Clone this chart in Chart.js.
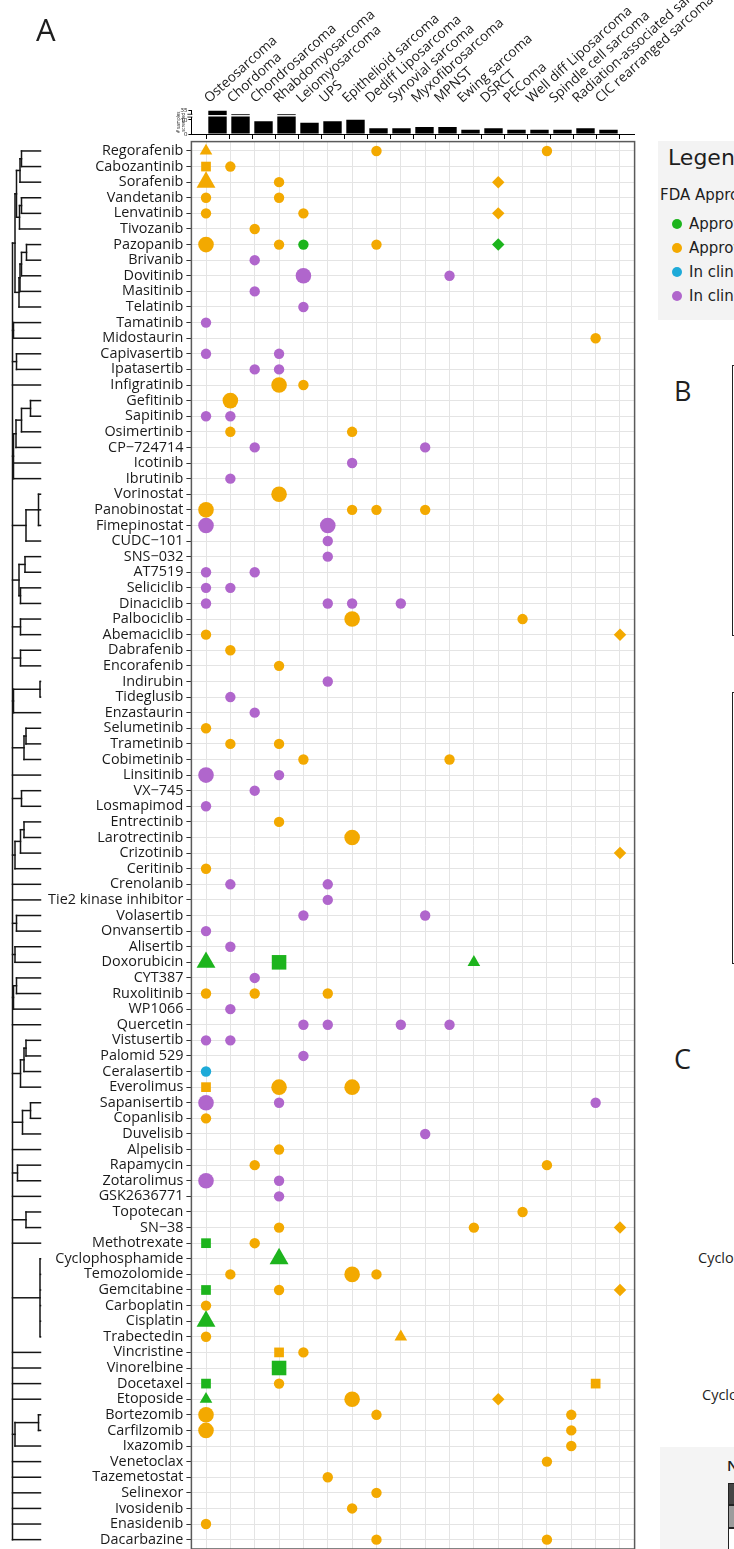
<!DOCTYPE html>
<html>
<head>
<meta charset="utf-8">
<script src="https://cdn.jsdelivr.net/npm/chart.js@4.4.1/dist/chart.umd.min.js"></script>
<style>
  html, body { margin: 0; padding: 0; background: #fff; width: 734px; height: 1549px; overflow: hidden; }
  body { position: relative; font-family: "Open Sans", sans-serif; color: #1e1e1e; }
  canvas { position: absolute; }
  .abs { position: absolute; white-space: nowrap; }
  #legendBox, #legendBox .abs { font-family: "DejaVu Sans", sans-serif; }
</style>
</head>
<body>
<canvas id="bars" width="734" height="141" style="left:0;top:0"></canvas>
<canvas id="tree" width="48" height="1549" style="left:0;top:0"></canvas>
<canvas id="hits" width="640" height="1549" style="left:0;top:0"></canvas>

<div class="abs" style="left:36px;top:8px;font-size:31px;">A</div>

<!-- side panels -->
<div class="abs" id="legendBox" style="left:658px;top:141px;width:76px;height:179px;background:#f3f3f3;overflow:hidden;">
  <div class="abs" style="left:10px;top:4px;font-size:22px;">Legend</div>
  <div class="abs" style="left:2px;top:45px;font-size:15px;">FDA Approval Status</div>
</div>
<div class="abs" style="left:674px;top:372px;font-size:27px;">B</div>
<div class="abs" style="left:732px;top:365px;width:2px;height:269px;border:1.5px solid #222;border-right:none;"></div>
<div class="abs" style="left:732px;top:692px;width:2px;height:270px;border:1.5px solid #222;border-right:none;"></div>
<div class="abs" style="left:674px;top:1040px;font-size:27px;">C</div>
<div class="abs" style="left:698px;top:1248px;width:36px;overflow:hidden;font-size:14.5px;">Cyclophosphamide</div>
<div class="abs" style="left:702px;top:1385px;width:32px;overflow:hidden;font-size:14.5px;">Cyclophosphamide</div>
<div class="abs" style="left:660px;top:1447px;width:74px;height:102px;background:#f4f4f4;overflow:hidden;">
  <div class="abs" style="left:67px;top:8px;font-size:15px;font-weight:600;">N</div>
  <div class="abs" style="left:68px;top:36px;width:40px;height:20px;background:#454545;border:1px solid #222;"></div>
  <div class="abs" style="left:68px;top:58px;width:40px;height:21px;background:#9c9c9c;border:1px solid #222;"></div>
  <div class="abs" style="left:68px;top:81px;width:40px;height:30px;background:#fff;border:1px solid #222;"></div>
</div>

<script>
// Sarcoma subtypes (columns)
const sarcomas = [
  'Osteosarcoma', 'Chordoma', 'Chondrosarcoma', 'Rhabdomyosarcoma', 'Leiomyosarcoma', 'UPS',
  'Epithelioid sarcoma', 'Dediff Liposarcoma', 'Synovial sarcoma', 'Myxofibrosarcoma', 'MPNST',
  'Ewing sarcoma', 'DSRCT', 'PEComa', 'Well diff Liposarcoma', 'Spindle cell sarcoma',
  'Radiation-associated sarcoma', 'CIC rearranged sarcoma'
];

// Number of samples screened per subtype
const samplesScreened = [35, 20, 9, 20, 8, 9, 10, 4, 4, 5, 5, 3, 4, 3, 3, 3, 4, 3];
const samplesTicks = [0, 10, 35];

// Drugs (rows, in dendrogram order)
const drugs = [
  'Regorafenib', 'Cabozantinib', 'Sorafenib', 'Vandetanib', 'Lenvatinib', 'Tivozanib', 'Pazopanib',
  'Brivanib', 'Dovitinib', 'Masitinib', 'Telatinib', 'Tamatinib', 'Midostaurin', 'Capivasertib',
  'Ipatasertib', 'Infigratinib', 'Gefitinib', 'Sapitinib', 'Osimertinib', 'CP\u2212724714', 'Icotinib',
  'Ibrutinib', 'Vorinostat', 'Panobinostat', 'Fimepinostat', 'CUDC\u2212101', 'SNS\u2212032', 'AT7519',
  'Seliciclib', 'Dinaciclib', 'Palbociclib', 'Abemaciclib', 'Dabrafenib', 'Encorafenib', 'Indirubin',
  'Tideglusib', 'Enzastaurin', 'Selumetinib', 'Trametinib', 'Cobimetinib', 'Linsitinib', 'VX\u2212745',
  'Losmapimod', 'Entrectinib', 'Larotrectinib', 'Crizotinib', 'Ceritinib', 'Crenolanib',
  'Tie2 kinase inhibitor', 'Volasertib', 'Onvansertib', 'Alisertib', 'Doxorubicin', 'CYT387',
  'Ruxolitinib', 'WP1066', 'Quercetin', 'Vistusertib', 'Palomid 529', 'Ceralasertib', 'Everolimus',
  'Sapanisertib', 'Copanlisib', 'Duvelisib', 'Alpelisib', 'Rapamycin', 'Zotarolimus', 'GSK2636771',
  'Topotecan', 'SN\u221238', 'Methotrexate', 'Cyclophosphamide', 'Temozolomide', 'Gemcitabine',
  'Carboplatin', 'Cisplatin', 'Trabectedin', 'Vincristine', 'Vinorelbine', 'Docetaxel', 'Etoposide',
  'Bortezomib', 'Carfilzomib', 'Ixazomib', 'Venetoclax', 'Tazemetostat', 'Selinexor', 'Ivosidenib',
  'Enasidenib', 'Dacarbazine'
];

// Hits: [drug, sarcoma, marker class (1-4), response level (1-2)]
const approvedForSarcoma = [
  ['Pazopanib', 'Leiomyosarcoma', 1, 1], ['Pazopanib', 'DSRCT', 4, 1],
  ['Doxorubicin', 'Osteosarcoma', 3, 2], ['Doxorubicin', 'Rhabdomyosarcoma', 2, 2], ['Doxorubicin', 'Ewing sarcoma', 3, 1],
  ['Methotrexate', 'Osteosarcoma', 2, 1], ['Cyclophosphamide', 'Rhabdomyosarcoma', 3, 2],
  ['Gemcitabine', 'Osteosarcoma', 2, 1], ['Cisplatin', 'Osteosarcoma', 3, 2],
  ['Vinorelbine', 'Rhabdomyosarcoma', 2, 2], ['Docetaxel', 'Osteosarcoma', 2, 1],
  ['Etoposide', 'Osteosarcoma', 3, 1]
];

const approvedOther = [
  ['Regorafenib', 'Osteosarcoma', 3, 1], ['Regorafenib', 'Dediff Liposarcoma', 1, 1], ['Regorafenib', 'Well diff Liposarcoma', 1, 1],
  ['Cabozantinib', 'Osteosarcoma', 2, 1], ['Cabozantinib', 'Chordoma', 1, 1],
  ['Sorafenib', 'Osteosarcoma', 3, 2], ['Sorafenib', 'Rhabdomyosarcoma', 1, 1], ['Sorafenib', 'DSRCT', 4, 1],
  ['Vandetanib', 'Osteosarcoma', 1, 1], ['Vandetanib', 'Rhabdomyosarcoma', 1, 1],
  ['Lenvatinib', 'Osteosarcoma', 1, 1], ['Lenvatinib', 'Leiomyosarcoma', 1, 1], ['Lenvatinib', 'DSRCT', 4, 1],
  ['Tivozanib', 'Chondrosarcoma', 1, 1],
  ['Pazopanib', 'Osteosarcoma', 1, 2], ['Pazopanib', 'Rhabdomyosarcoma', 1, 1], ['Pazopanib', 'Dediff Liposarcoma', 1, 1],
  ['Midostaurin', 'Radiation-associated sarcoma', 1, 1],
  ['Infigratinib', 'Rhabdomyosarcoma', 1, 2], ['Infigratinib', 'Leiomyosarcoma', 1, 1],
  ['Gefitinib', 'Chordoma', 1, 2],
  ['Osimertinib', 'Chordoma', 1, 1], ['Osimertinib', 'Epithelioid sarcoma', 1, 1],
  ['Vorinostat', 'Rhabdomyosarcoma', 1, 2],
  ['Panobinostat', 'Osteosarcoma', 1, 2], ['Panobinostat', 'Epithelioid sarcoma', 1, 1],
  ['Panobinostat', 'Dediff Liposarcoma', 1, 1], ['Panobinostat', 'Myxofibrosarcoma', 1, 1],
  ['Palbociclib', 'Epithelioid sarcoma', 1, 2], ['Palbociclib', 'PEComa', 1, 1],
  ['Abemaciclib', 'Osteosarcoma', 1, 1], ['Abemaciclib', 'CIC rearranged sarcoma', 4, 1],
  ['Dabrafenib', 'Chordoma', 1, 1], ['Encorafenib', 'Rhabdomyosarcoma', 1, 1],
  ['Selumetinib', 'Osteosarcoma', 1, 1],
  ['Trametinib', 'Chordoma', 1, 1], ['Trametinib', 'Rhabdomyosarcoma', 1, 1],
  ['Cobimetinib', 'Leiomyosarcoma', 1, 1], ['Cobimetinib', 'MPNST', 1, 1],
  ['Entrectinib', 'Rhabdomyosarcoma', 1, 1], ['Larotrectinib', 'Epithelioid sarcoma', 1, 2],
  ['Crizotinib', 'CIC rearranged sarcoma', 4, 1], ['Ceritinib', 'Osteosarcoma', 1, 1],
  ['Ruxolitinib', 'Osteosarcoma', 1, 1], ['Ruxolitinib', 'Chondrosarcoma', 1, 1], ['Ruxolitinib', 'UPS', 1, 1],
  ['Everolimus', 'Osteosarcoma', 2, 1], ['Everolimus', 'Rhabdomyosarcoma', 1, 2], ['Everolimus', 'Epithelioid sarcoma', 1, 2],
  ['Copanlisib', 'Osteosarcoma', 1, 1], ['Alpelisib', 'Rhabdomyosarcoma', 1, 1],
  ['Rapamycin', 'Chondrosarcoma', 1, 1], ['Rapamycin', 'Well diff Liposarcoma', 1, 1],
  ['Topotecan', 'PEComa', 1, 1],
  ['SN\u221238', 'Rhabdomyosarcoma', 1, 1], ['SN\u221238', 'Ewing sarcoma', 1, 1], ['SN\u221238', 'CIC rearranged sarcoma', 4, 1],
  ['Methotrexate', 'Chondrosarcoma', 1, 1],
  ['Temozolomide', 'Chordoma', 1, 1], ['Temozolomide', 'Epithelioid sarcoma', 1, 2], ['Temozolomide', 'Dediff Liposarcoma', 1, 1],
  ['Gemcitabine', 'Rhabdomyosarcoma', 1, 1], ['Gemcitabine', 'CIC rearranged sarcoma', 4, 1],
  ['Carboplatin', 'Osteosarcoma', 1, 1],
  ['Trabectedin', 'Osteosarcoma', 1, 1], ['Trabectedin', 'Synovial sarcoma', 3, 1],
  ['Vincristine', 'Rhabdomyosarcoma', 2, 1], ['Vincristine', 'Leiomyosarcoma', 1, 1],
  ['Docetaxel', 'Rhabdomyosarcoma', 1, 1], ['Docetaxel', 'Radiation-associated sarcoma', 2, 1],
  ['Etoposide', 'Epithelioid sarcoma', 1, 2], ['Etoposide', 'DSRCT', 4, 1],
  ['Bortezomib', 'Osteosarcoma', 1, 2], ['Bortezomib', 'Dediff Liposarcoma', 1, 1], ['Bortezomib', 'Spindle cell sarcoma', 1, 1],
  ['Carfilzomib', 'Osteosarcoma', 1, 2], ['Carfilzomib', 'Spindle cell sarcoma', 1, 1],
  ['Ixazomib', 'Spindle cell sarcoma', 1, 1], ['Venetoclax', 'Well diff Liposarcoma', 1, 1],
  ['Tazemetostat', 'UPS', 1, 1], ['Selinexor', 'Dediff Liposarcoma', 1, 1],
  ['Ivosidenib', 'Epithelioid sarcoma', 1, 1], ['Enasidenib', 'Osteosarcoma', 1, 1],
  ['Dacarbazine', 'Dediff Liposarcoma', 1, 1], ['Dacarbazine', 'Well diff Liposarcoma', 1, 1]
];

const trialsForSarcoma = [
  ['Ceralasertib', 'Osteosarcoma', 1, 1]
];

const trialsOther = [
  ['Brivanib', 'Chondrosarcoma', 1, 1],
  ['Dovitinib', 'Leiomyosarcoma', 1, 2], ['Dovitinib', 'MPNST', 1, 1],
  ['Masitinib', 'Chondrosarcoma', 1, 1], ['Telatinib', 'Leiomyosarcoma', 1, 1],
  ['Tamatinib', 'Osteosarcoma', 1, 1],
  ['Capivasertib', 'Osteosarcoma', 1, 1], ['Capivasertib', 'Rhabdomyosarcoma', 1, 1],
  ['Ipatasertib', 'Chondrosarcoma', 1, 1], ['Ipatasertib', 'Rhabdomyosarcoma', 1, 1],
  ['Sapitinib', 'Osteosarcoma', 1, 1], ['Sapitinib', 'Chordoma', 1, 1],
  ['CP\u2212724714', 'Chondrosarcoma', 1, 1], ['CP\u2212724714', 'Myxofibrosarcoma', 1, 1],
  ['Icotinib', 'Epithelioid sarcoma', 1, 1], ['Ibrutinib', 'Chordoma', 1, 1],
  ['Fimepinostat', 'Osteosarcoma', 1, 2], ['Fimepinostat', 'UPS', 1, 2],
  ['CUDC\u2212101', 'UPS', 1, 1], ['SNS\u2212032', 'UPS', 1, 1],
  ['AT7519', 'Osteosarcoma', 1, 1], ['AT7519', 'Chondrosarcoma', 1, 1],
  ['Seliciclib', 'Osteosarcoma', 1, 1], ['Seliciclib', 'Chordoma', 1, 1],
  ['Dinaciclib', 'Osteosarcoma', 1, 1], ['Dinaciclib', 'UPS', 1, 1],
  ['Dinaciclib', 'Epithelioid sarcoma', 1, 1], ['Dinaciclib', 'Synovial sarcoma', 1, 1],
  ['Indirubin', 'UPS', 1, 1], ['Tideglusib', 'Chordoma', 1, 1], ['Enzastaurin', 'Chondrosarcoma', 1, 1],
  ['Linsitinib', 'Osteosarcoma', 1, 2], ['Linsitinib', 'Rhabdomyosarcoma', 1, 1],
  ['VX\u2212745', 'Chondrosarcoma', 1, 1], ['Losmapimod', 'Osteosarcoma', 1, 1],
  ['Crenolanib', 'Chordoma', 1, 1], ['Crenolanib', 'UPS', 1, 1],
  ['Tie2 kinase inhibitor', 'UPS', 1, 1],
  ['Volasertib', 'Leiomyosarcoma', 1, 1], ['Volasertib', 'Myxofibrosarcoma', 1, 1],
  ['Onvansertib', 'Osteosarcoma', 1, 1], ['Alisertib', 'Chordoma', 1, 1],
  ['CYT387', 'Chondrosarcoma', 1, 1], ['WP1066', 'Chordoma', 1, 1],
  ['Quercetin', 'Leiomyosarcoma', 1, 1], ['Quercetin', 'UPS', 1, 1],
  ['Quercetin', 'Synovial sarcoma', 1, 1], ['Quercetin', 'MPNST', 1, 1],
  ['Vistusertib', 'Osteosarcoma', 1, 1], ['Vistusertib', 'Chordoma', 1, 1],
  ['Palomid 529', 'Leiomyosarcoma', 1, 1],
  ['Sapanisertib', 'Osteosarcoma', 1, 2], ['Sapanisertib', 'Rhabdomyosarcoma', 1, 1],
  ['Sapanisertib', 'Radiation-associated sarcoma', 1, 1],
  ['Duvelisib', 'Myxofibrosarcoma', 1, 1],
  ['Zotarolimus', 'Osteosarcoma', 1, 2], ['Zotarolimus', 'Rhabdomyosarcoma', 1, 1],
  ['GSK2636771', 'Rhabdomyosarcoma', 1, 1]
];

const statusGroups = [
  { label: 'Approved for sarcoma', color: '#1db41d', hits: approvedForSarcoma },
  { label: 'Approved for other indications', color: '#f3a900', hits: approvedOther },
  { label: 'In clinical trials for sarcoma', color: '#1eaad8', hits: trialsForSarcoma },
  { label: 'In clinical trials for other indications', color: '#b066cc', hits: trialsOther }
];

// Drug clustering: [height, ...children]; leaves are drug names
const dendrogram = [28,
  [25.5,
    [24, [20.5, [19, 'Regorafenib', 'Cabozantinib'], 'Sorafenib'], [21, [19, 'Vandetanib', 'Lenvatinib'], 'Tivozanib']],
    [21.5, [20.5, [19, [14, 'Pazopanib', 'Brivanib'], 'Dovitinib'], 'Masitinib'], 'Telatinib']],
  [27, 'Tamatinib', 'Midostaurin'],
  [24, 'Capivasertib', 'Ipatasertib'],
  'Infigratinib',
  [27, [24.5, [19, [10, 'Gefitinib', 'Sapitinib'], 'Osimertinib'], 'CP\u2212724714'], 'Icotinib', 'Ibrutinib'],
  [14.5, [2, 'Vorinostat', 'Panobinostat', 'Fimepinostat'], 'CUDC\u2212101'],
  [21.5, [15.5, 'SNS\u2212032', 'AT7519'], [20, 'Seliciclib', 'Dinaciclib']],
  [20, 'Palbociclib', 'Abemaciclib'],
  [20, 'Dabrafenib', 'Encorafenib'],
  [27, [0.5, 'Indirubin', 'Tideglusib'], 'Enzastaurin'],
  [16.5, [14.5, 'Selumetinib', 'Trametinib'], 'Cobimetinib'],
  'Linsitinib',
  [19, 'VX\u2212745', 'Losmapimod'],
  [25.5, [20, [16.5, 'Entrectinib', 'Larotrectinib'], 'Crizotinib'], 'Ceritinib'],
  'Crenolanib', 'Tie2 kinase inhibitor',
  [24, 'Volasertib', 'Onvansertib'],
  [25.5, 'Alisertib', 'Doxorubicin'],
  [27, [24, 'CYT387', 'Ruxolitinib'], 'WP1066'],
  'Quercetin',
  [20, [16.5, [14.5, 'Vistusertib', 'Palomid 529'], 'Ceralasertib'], 'Everolimus'],
  [18, [10, 'Sapanisertib', 'Copanlisib'], 'Duvelisib'],
  'Alpelisib',
  [23, 'Rapamycin', 'Zotarolimus'],
  'GSK2636771',
  [14.5, 'Topotecan', 'SN\u221238'],
  'Methotrexate',
  [0.5, 'Cyclophosphamide', 'Temozolomide', 'Gemcitabine', 'Carboplatin', 'Cisplatin', 'Trabectedin'],
  'Vincristine', 'Vinorelbine', 'Docetaxel', 'Etoposide',
  [25.5, [2, 'Bortezomib', 'Carfilzomib'], 'Ixazomib'],
  'Venetoclax', 'Tazemetostat', 'Selinexor', 'Ivosidenib', 'Enasidenib', 'Dacarbazine'
];

// ---------- shared geometry ----------
const FONT = '"Open Sans", sans-serif';
const colPad = 0.6;                     // discrete-axis expansion
const xMin = -colPad, xMax = sarcomas.length - 1 + colPad;
const yMin = -colPad, yMax = drugs.length - 1 + colPad;
const plotLeft = 191.4, plotRight = 634.6, plotTop = 141.6;

const markerShape = { 1: 'circle', 2: 'rect', 3: 'triangle', 4: 'rectRot' };
const shapeScale = { 1: 1, 2: 1.32, 3: 1.4, 4: 1.2 };
const levelRadius = { 1: 5.2, 2: 7.8 };
const markerRadius = p => levelRadius[p.level] * shapeScale[p.cls];

const intTicks = n => Array.from({ length: n }, (_, i) => ({ value: i }));
const noPad = s => { s.paddingTop = 0; s.paddingBottom = 0; s.paddingLeft = 0; s.paddingRight = 0; };

// legend entries built from the status groups
const legendBox = document.getElementById('legendBox');
statusGroups.forEach((g, i) => {
  const row = document.createElement('div');
  row.className = 'abs';
  row.style.cssText = `left:14px;top:${74 + i * 24}px;font-size:15px;`;
  row.innerHTML = `<span style="display:inline-block;width:10px;height:10px;border-radius:50%;background:${g.color};margin-right:7px;vertical-align:0px"></span>${g.label}`;
  legendBox.appendChild(row);
});

// ---------- panel frame ----------
const panelFrame = {
  id: 'panelFrame',
  beforeDatasetsDraw(chart) {
    const { ctx, chartArea: a } = chart;
    ctx.save();
    ctx.strokeStyle = '#5a5a5a';
    ctx.lineWidth = 1.5;
    ctx.strokeRect(a.left, a.top, a.right - a.left, a.bottom - a.top);
    ctx.restore();
  }
};

// ---------- drug x sarcoma hits ----------
new Chart(document.getElementById('hits'), {
  type: 'scatter',
  data: {
    datasets: statusGroups.map(g => ({
      label: g.label,
      data: g.hits.map(([drug, sarcoma, cls, level]) => ({
        x: sarcomas.indexOf(sarcoma), y: drugs.indexOf(drug), cls, level
      })),
      backgroundColor: g.color,
      borderWidth: 0,
      pointStyle: c => markerShape[c.raw.cls],
      pointRadius: c => markerRadius(c.raw),
      pointHoverRadius: c => markerRadius(c.raw),
      clip: false
    }))
  },
  options: {
    responsive: false, animation: false, events: [],
    layout: { autoPadding: false, padding: { left: 0, top: plotTop, right: 640 - plotRight, bottom: 0 } },
    plugins: { legend: { display: false }, tooltip: { enabled: false } },
    scales: {
      x: {
        type: 'linear', min: xMin, max: xMax,
        afterBuildTicks: s => { s.ticks = intTicks(sarcomas.length); },
        afterFit: s => { s.height = 0; noPad(s); },
        ticks: { display: false },
        grid: { color: '#e4e4e4', lineWidth: 1, drawTicks: false },
        border: { display: false }
      },
      y: {
        type: 'linear', reverse: true, min: yMin, max: yMax,
        afterBuildTicks: s => { s.ticks = intTicks(drugs.length); },
        afterFit: s => { s.width = plotLeft; noPad(s); },
        ticks: {
          autoSkip: false, padding: 3, color: '#1a1a1a',
          font: { family: FONT, size: 14.4 },
          callback: v => drugs[v]
        },
        grid: { color: '#e4e4e4', lineWidth: 1, tickColor: '#333', tickLength: 5, tickWidth: 1 },
        border: { display: false }
      }
    }
  },
  plugins: [panelFrame]
});

// ---------- dendrogram ----------
const treeSegments = [];
function placeNode(node) {
  if (typeof node === 'string') return { y: drugs.indexOf(node), h: 0 };
  const [h, ...kids] = node;
  const placed = kids.map(placeNode);
  placed.forEach(p => treeSegments.push([{ x: p.h, y: p.y }, { x: h, y: p.y }]));
  const ys = placed.map(p => p.y);
  const lo = Math.min(...ys), hi = Math.max(...ys);
  treeSegments.push([{ x: h, y: lo }, { x: h, y: hi }]);
  return { y: (lo + hi) / 2, h };
}
placeNode(dendrogram);

new Chart(document.getElementById('tree'), {
  type: 'scatter',
  data: {
    datasets: treeSegments.map(seg => ({
      data: seg, showLine: true, borderColor: '#151515', borderWidth: 1.5,
      borderCapStyle: 'square', pointRadius: 0, clip: false
    }))
  },
  options: {
    responsive: false, animation: false, events: [],
    layout: { autoPadding: false, padding: { left: 10, right: 48 - 40.5, top: plotTop, bottom: 0 } },
    plugins: { legend: { display: false }, tooltip: { enabled: false } },
    scales: {
      x: { type: 'linear', reverse: true, min: 0, max: 30.5, display: false },
      y: { type: 'linear', reverse: true, min: yMin, max: yMax, display: false }
    }
  }
});

// ---------- samples screened (broken axis) ----------
const axisBreak = 12.5, upperScale = 0.18;
const brokenAxis = v => (v <= axisBreak ? v : axisBreak + (v - axisBreak) * upperScale);

const barBreaks = {
  id: 'barBreaks',
  afterDatasetsDraw(chart) {
    const { ctx, scales: { y }, chartArea: a } = chart;
    const yb = y.getPixelForValue(axisBreak + 0.4);
    ctx.save();
    ctx.fillStyle = '#fff';
    chart.getDatasetMeta(0).data.forEach((bar, i) => {
      if (samplesScreened[i] > axisBreak) {
        ctx.fillRect(bar.x - bar.width / 2 - 1, yb - 0.6, bar.width + 2, 1.4);
      }
    });
    // break marks on the axis
    ctx.fillRect(a.left - 3, yb - 1.2, 5, 2.4);
    ctx.strokeStyle = '#000';
    ctx.lineWidth = 0.8;
    ctx.beginPath();
    ctx.moveTo(a.left - 4, yb - 1.4); ctx.lineTo(a.left + 1, yb - 1.4);
    ctx.moveTo(a.left - 4, yb + 1.4); ctx.lineTo(a.left + 1, yb + 1.4);
    ctx.stroke();
    ctx.restore();
  }
};

const barAxisLeft = 176;
new Chart(document.getElementById('bars'), {
  type: 'bar',
  data: {
    datasets: [{
      data: samplesScreened.map((v, i) => ({ x: i, y: brokenAxis(v) })),
      backgroundColor: '#000', borderWidth: 0,
      barPercentage: 0.8, categoryPercentage: 1
    }]
  },
  options: {
    responsive: false, animation: false, events: [],
    layout: { autoPadding: false, padding: { left: barAxisLeft, right: 734 - plotRight, top: 0, bottom: 2 } },
    plugins: { legend: { display: false }, tooltip: { enabled: false } },
    scales: {
      x: {
        type: 'linear', position: 'top', min: xMin, max: xMax,
        afterBuildTicks: s => { s.ticks = intTicks(sarcomas.length); },
        afterFit: s => { s.height = 110.5; noPad(s); },
        ticks: {
          minRotation: 42, maxRotation: 42, autoSkip: false, padding: 4, color: '#1a1a1a',
          font: { family: FONT, size: 13.6 },
          callback: v => sarcomas[v]
        },
        grid: { display: false, drawTicks: false },
        border: { display: false }
      },
      xb: {
        type: 'linear', position: 'bottom', min: xMin, max: xMax,
        afterBuildTicks: s => { s.ticks = intTicks(sarcomas.length); },
        afterFit: s => { s.height = 5; noPad(s); },
        ticks: { display: false },
        grid: { drawOnChartArea: false, drawTicks: true, tickLength: 5, color: '#000', lineWidth: 1 },
        border: { display: true, color: '#000', width: 1 }
      },
      y: {
        type: 'linear', min: 0, max: brokenAxis(35),
        afterBuildTicks: s => { s.ticks = samplesTicks.map(v => ({ value: brokenAxis(v) })); },
        afterFit: s => { s.width = plotLeft - barAxisLeft; noPad(s); },
        ticks: {
          padding: 1, color: '#111', font: { family: FONT, size: 6 },
          callback: (v, i) => String(samplesTicks[i])
        },
        grid: { drawOnChartArea: false, tickLength: 3, color: '#000' },
        border: { display: true, color: '#000', width: 1 },
        title: { display: true, text: ['# samples', 'screened'], font: { family: FONT, size: 4.5 }, padding: 0, color: '#111' }
      }
    }
  },
  plugins: [barBreaks]
});
</script>
</body>
</html>
